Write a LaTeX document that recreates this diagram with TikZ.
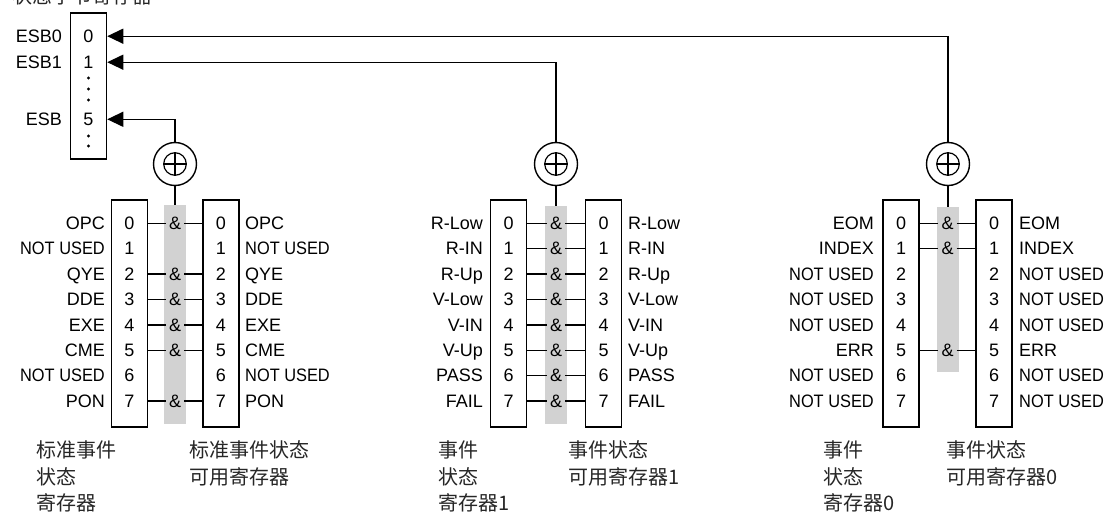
\documentclass[tikz,border=0pt]{standalone}
\usepackage{fontspec}
\usepackage{graphicx}
\setmainfont{Liberation Sans}
\newfontfamily\cjkfont{Noto Sans CJK SC}
\usetikzlibrary{arrows.meta}
\newcommand\latf{\fontsize{18}{20}\selectfont}
\newcommand\cjkf{\cjkfont\fontsize{20}{26}\selectfont}
\newcommand\NU{\scalebox{0.91}[1]{NOT USED}}
\tikzset{
 regbox/.style={draw, line width=1.5pt, minimum width=36pt, inner sep=0pt},
 andbar/.style={fill=gray!35, draw=none, minimum width=22pt, inner sep=0pt},
 lbl/.style={font=\latf, inner sep=0pt},
 andn/.style={font=\latf, inner xsep=3pt, inner ysep=0pt, anchor=base},
 captxt/.style={font=\cjkf, inner sep=0pt, anchor=base west, text=black!85},
 wire/.style={line width=1.3pt},
 arr/.style={wire, -{Triangle[length=16pt,width=15pt]}},
 xorc/.style={circle, draw, line width=1.4pt, minimum size=43pt, inner sep=0pt},
}
\begin{document}
\begin{tikzpicture}[x=1pt,y=-1pt]
\useasboundingbox (0,0) rectangle (1107,514);
% ---------- status byte register ----------
\node[captxt] (title) at (12,3) {状态字节寄存器};
\node[regbox, minimum height=146pt] (sb) at (88.5,86) {};
\node[lbl, anchor=base] (sb0) at (88.5,42.4) {0};
\node[lbl, anchor=base] (sb1) at (88.5,68.4) {1};
\node[lbl, anchor=base] (sb5) at (88.5,125.4) {5};
\node[lbl, anchor=base east] (sbt0) at (62,42.4) {ESB0};
\node[lbl, anchor=base east] (sbt1) at (62,68.4) {ESB1};
\node[lbl, anchor=base east] (sbt5) at (62,125.4) {ESB};
\foreach \d in {78,89,100,136,146}{\fill (88.5,\d) circle (1.6pt);}
% ---------- group A ----------
\node[andbar, minimum height=219pt] (aB) at (175,314.5) {};
\node[regbox, minimum height=227pt] (aL) at (129.5,313.5) {};
\node[regbox, minimum height=227pt] (aR) at (221,313.5) {};
\foreach \t [count=\i from 0] in {OPC,\NU,QYE,DDE,EXE,CME,\NU,PON}{
  \pgfmathsetmacro\yy{223+25.4*\i}
  \node[lbl, anchor=base] (aLd\i) at (129.5,\yy+6.4) {\i};
  \node[lbl, anchor=base] (aRd\i) at (221,\yy+6.4) {\i};
  \node[lbl, anchor=base east] (aLt\i) at (105,\yy+6.4) {\t};
  \node[lbl, anchor=base west] (aRt\i) at (245,\yy+6.4) {\t};
}
\foreach \i in {0,2,3,4,5,7}{
  \pgfmathsetmacro\yy{223+25.4*\i}
  \node[andn] (aA\i) at (175,\yy+6.4) {\&};
  \draw[wire] (aL.east |- aA\i) -- (aA\i.west);
  \draw[wire] (aA\i.east) -- (aR.west |- aA\i);
}
\node[xorc] (aX) at (175,164) {};
\draw[line width=1.2pt] (aX.center) circle (11.3pt);
\draw[line width=1.2pt] (aX.center) ++(-11.3,0) -- ++(22.6,0);
\draw[line width=1.2pt] (aX.center) ++(0,-11.3) -- ++(0,22.6);
\draw[wire] (aX.south) -- (aB.north);
\draw[arr] (aX.north) |- (sb.east |- sb5);
\node[captxt] (ac1) at (36,457.4) {标准事件};
\node[captxt] (ac2) at (36,484.4) {状态};
\node[captxt] (ac3) at (36,510.4) {寄存器};
\node[captxt] (ad1) at (189,457.4) {标准事件状态};
\node[captxt] (ad2) at (189,484.4) {可用寄存器};
% ---------- group B ----------
\node[andbar, minimum height=218pt] (bB) at (556,315) {};
\node[regbox, minimum height=227pt] (bL) at (508.5,313.5) {};
\node[regbox, minimum height=227pt] (bR) at (603.5,313.5) {};
\foreach \t [count=\i from 0] in {R-Low,R-IN,R-Up,V-Low,V-IN,V-Up,PASS,FAIL}{
  \pgfmathsetmacro\yy{223+25.4*\i}
  \node[lbl, anchor=base] (bLd\i) at (508.5,\yy+6.4) {\i};
  \node[lbl, anchor=base] (bRd\i) at (603.5,\yy+6.4) {\i};
  \node[lbl, anchor=base east] (bLt\i) at (483,\yy+6.4) {\t};
  \node[lbl, anchor=base west] (bRt\i) at (628,\yy+6.4) {\t};
  \node[andn] (bA\i) at (556,\yy+6.4) {\&};
  \draw[wire] (bL.east |- bA\i) -- (bA\i.west);
  \draw[wire] (bA\i.east) -- (bR.west |- bA\i);
}
\node[xorc] (bX) at (556,164) {};
\draw[line width=1.2pt] (bX.center) circle (11.3pt);
\draw[line width=1.2pt] (bX.center) ++(-11.3,0) -- ++(22.6,0);
\draw[line width=1.2pt] (bX.center) ++(0,-11.3) -- ++(0,22.6);
\draw[wire] (bX.south) -- (bB.north);
\draw[arr] (bX.north) |- (sb.east |- sb1);
\node[captxt] (bc1) at (438,457.4) {事件};
\node[captxt] (bc2) at (438,484.4) {状态};
\node[captxt] (bc3) at (438,510.4) {寄存器1};
\node[captxt] (bd1) at (568,457.4) {事件状态};
\node[captxt] (bd2) at (568,484.4) {可用寄存器1};
% ---------- group C ----------
\node[andbar, minimum height=165pt] (cB) at (947.5,289.5) {};
\node[regbox, minimum height=227pt] (cL) at (901,313.5) {};
\node[regbox, minimum height=227pt] (cR) at (994,313.5) {};
\foreach \t [count=\i from 0] in {EOM,INDEX,\NU,\NU,\NU,ERR,\NU,\NU}{
  \pgfmathsetmacro\yy{223+25.4*\i}
  \node[lbl, anchor=base] (cLd\i) at (901,\yy+6.4) {\i};
  \node[lbl, anchor=base] (cRd\i) at (994,\yy+6.4) {\i};
  \node[lbl, anchor=base east] (cLt\i) at (874,\yy+6.4) {\t};
  \node[lbl, anchor=base west] (cRt\i) at (1019,\yy+6.4) {\t};
}
\foreach \i in {0,1,5}{
  \pgfmathsetmacro\yy{223+25.4*\i}
  \node[andn] (cA\i) at (947.5,\yy+6.4) {\&};
  \draw[wire] (cL.east |- cA\i) -- (cA\i.west);
  \draw[wire] (cA\i.east) -- (cR.west |- cA\i);
}
\node[xorc] (cX) at (948,164) {};
\draw[line width=1.2pt] (cX.center) circle (11.3pt);
\draw[line width=1.2pt] (cX.center) ++(-11.3,0) -- ++(22.6,0);
\draw[line width=1.2pt] (cX.center) ++(0,-11.3) -- ++(0,22.6);
\draw[wire] (cX.south) -- (cX.south |- cB.north);
\draw[arr] (cX.north) |- (sb.east |- sb0);
\node[captxt] (cc1) at (823,457.4) {事件};
\node[captxt] (cc2) at (823,484.4) {状态};
\node[captxt] (cc3) at (823,510.4) {寄存器0};
\node[captxt] (cd1) at (946,457.4) {事件状态};
\node[captxt] (cd2) at (946,484.4) {可用寄存器0};
\end{tikzpicture}
\end{document}
